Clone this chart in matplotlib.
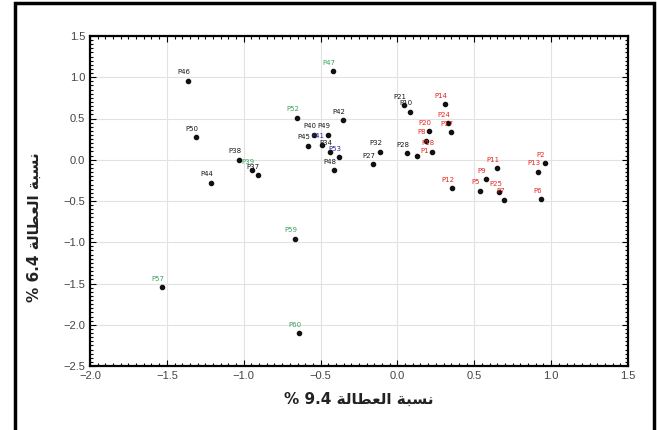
import numpy as np
import matplotlib
matplotlib.use("Agg")
import matplotlib.pyplot as plt
from matplotlib.patches import Rectangle
from matplotlib.ticker import MultipleLocator

# point labels, coordinates and label groups
names = ['P46', 'P50', 'P44', 'P38', 'P37', 'P42', 'P40', 'P49', 'P45', 'P41',
         'P34', 'P53', 'P48', 'P32', 'P27', 'P21', 'P10', 'P28', 'P1',
         'P14', 'P24', 'P17', 'P20', 'P8', 'P18', 'P11', 'P12', 'P9', 'P5',
         'P25', 'P7', 'P2', 'P13', 'P6',
         'P47', 'P52', 'P39', 'P59', 'P57', 'P60']
xs = [-1.36, -1.31, -1.21, -1.03, -0.91, -0.355, -0.54, -0.45, -0.585, -0.49,
      -0.437, -0.379, -0.41, -0.116, -0.157, 0.04, 0.085, 0.06, 0.125,
      0.308, 0.33, 0.346, 0.204, 0.183, 0.223, 0.65, 0.354, 0.578, 0.536,
      0.664, 0.696, 0.958, 0.913, 0.937,
      -0.419, -0.651, -0.945, -0.665, -1.53, -0.64]
ys = [0.96, 0.27, -0.28, 0.0, -0.19, 0.48, 0.30, 0.30, 0.17, 0.18,
      0.094, 0.03, -0.13, 0.094, -0.057, 0.66, 0.58, 0.078, 0.05,
      0.675, 0.44, 0.332, 0.347, 0.228, 0.10, -0.105, -0.347, -0.238, -0.377,
      -0.394, -0.485, -0.045, -0.148, -0.481,
      1.072, 0.509, -0.13, -0.955, -1.546, -2.104]
groups = ['k'] * 9 + ['b', 'k', 'b', 'k', 'k', 'k', 'k', 'k', 'k', 'r'] + \
         ['r'] * 15 + ['g'] * 6

group_colors = {'k': '#1a1a1a', 'r': '#e8261e', 'g': '#3aa35a', 'b': '#2b2b9a'}
# a few labels sit beside their dot instead of above it
label_offsets = {'P1': (6, 1)}

# Arabic axis titles (presentation forms in visual order)
xlabel = "% 9.4 \uFE94\uFEDF\uFE8E\uFEC4\uFECC\uFEDF\uFE8D \uFE94\uFE92\uFEB4\uFEE7"
ylabel = "% 6.4 \uFE94\uFEDF\uFE8E\uFEC4\uFECC\uFEDF\uFE8D \uFE94\uFE92\uFEB4\uFEE7"

fig = plt.figure(figsize=(6.57, 4.30), dpi=100)
ax = fig.add_axes([90 / 657, 1 - 366 / 430, 538 / 657, 330 / 430])

ax.scatter(xs, ys, s=9, color='#111111', zorder=3)
for n, x, y, g in zip(names, xs, ys, groups):
    ax.annotate(n, (x, y), xytext=label_offsets.get(n, (-3, 4)),
                textcoords='offset points', ha='center', va='bottom',
                fontsize=5, color=group_colors[g], zorder=4)

ax.set_xlim(-2.0, 1.5)
ax.set_ylim(-2.5, 1.5)
ax.xaxis.set_major_locator(MultipleLocator(0.5))
ax.yaxis.set_major_locator(MultipleLocator(0.5))
ax.xaxis.set_minor_locator(MultipleLocator(0.05))
ax.yaxis.set_minor_locator(MultipleLocator(0.05))
ax.tick_params(which='both', direction='in', top=True, right=True,
               labelsize=8, labelcolor='#444444', width=0.8)
ax.tick_params(which='major', length=4)
ax.tick_params(which='minor', length=2)
for lab in ax.get_xticklabels() + ax.get_yticklabels():
    lab.set_family('Liberation Sans')
ax.grid(True, color='#e2e2e2', linewidth=0.8)
ax.set_axisbelow(True)
for sp in ax.spines.values():
    sp.set_linewidth(1.6)

ax.set_xlabel(xlabel, fontsize=11, fontweight='bold', family='DejaVu Sans',
              color='#222222', labelpad=8)
ax.set_ylabel(ylabel, fontsize=11, fontweight='bold', family='DejaVu Sans',
              color='#222222', labelpad=14)
ax.yaxis.set_label_coords(-0.09, 0.42)

fig.patches.append(Rectangle((15 / 657, -0.02), 639 / 657, 1.0 - 3 / 430 + 0.02,
                             transform=fig.transFigure, fill=False,
                             edgecolor='black', linewidth=2.5))

fig.savefig('out.png', dpi=100)
